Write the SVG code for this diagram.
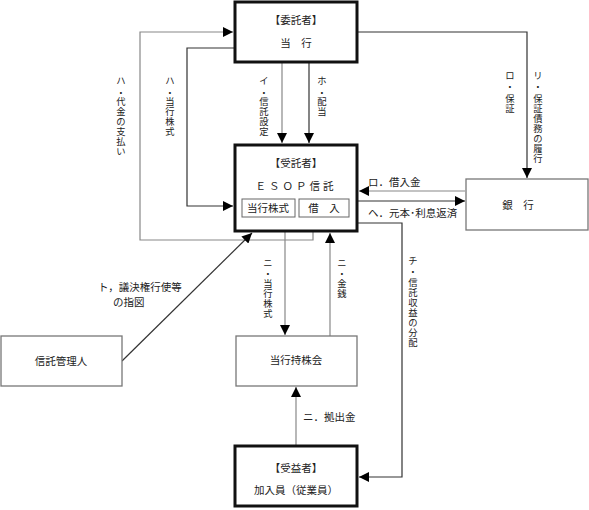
<svg xmlns="http://www.w3.org/2000/svg" width="589" height="510" viewBox="0 0 589 510">
<defs>
<marker id="ah" viewBox="0 0 10 10" refX="10" refY="5" markerWidth="10" markerHeight="10" markerUnits="userSpaceOnUse" orient="auto">
<path d="M0,0 L10,5 L0,10 z" fill="#000"/>
</marker>
</defs>
<style>
text{font-family:"Noto Sans CJK JP","Noto Sans CJK SC",sans-serif;font-size:10.5px;fill:#222}
.c{text-anchor:middle}
.v{text-anchor:middle;font-size:9.3px;font-family:"Liberation Sans","Noto Sans CJK JP",sans-serif}
.thick{fill:#fff;stroke:#111;stroke-width:3}
.thin{fill:#fff;stroke:#777;stroke-width:1.3}
.sub{fill:#fff;stroke:#666;stroke-width:1}
.cg{fill:none;stroke:#888;stroke-width:1.2}
.cd{fill:none;stroke:#333;stroke-width:1.2}
</style>
<rect width="589" height="510" fill="#fff"/>
<g id="connectors">
<path class="cg" d="M313,232 V240 H140 V32 H233" marker-end="url(#ah)"/>
<path class="cd" d="M234,48 H187 V206 H233" marker-end="url(#ah)"/>
<path class="cg" d="M282,62 V143" marker-end="url(#ah)"/>
<path class="cd" d="M309,62 V143" marker-end="url(#ah)"/>
<path class="cd" d="M358,32 H527 V178" marker-end="url(#ah)"/>
<path class="cg" d="M465,191 H359" marker-end="url(#ah)"/>
<path class="cd" d="M358,201 H465" marker-end="url(#ah)"/>
<path class="cd" d="M358,223 H402 V477 H359" marker-end="url(#ah)"/>
<path class="cg" d="M285,232 V335" marker-end="url(#ah)"/>
<path class="cg" d="M330,336 V233" marker-end="url(#ah)"/>
<path class="cd" d="M122,361 L252,233" marker-end="url(#ah)"/>
<path class="cg" d="M296,445 V387" marker-end="url(#ah)"/>
<text class="v"><tspan x="121" y="83.5">ハ</tspan><tspan x="121" y="95.5">・</tspan><tspan x="121" y="105">代</tspan><tspan x="121" y="115">金</tspan><tspan x="121" y="125">の</tspan><tspan x="121" y="135">支</tspan><tspan x="121" y="145">払</tspan><tspan x="121" y="155">い</tspan></text>
<text class="v"><tspan x="170" y="83.5">ハ</tspan><tspan x="170" y="95.5">・</tspan><tspan x="170" y="104.5">当</tspan><tspan x="170" y="114.5">行</tspan><tspan x="170" y="124.5">株</tspan><tspan x="170" y="134.5">式</tspan></text>
<text class="v"><tspan x="264" y="83.5">イ</tspan><tspan x="264" y="95.5">・</tspan><tspan x="264" y="104.5">信</tspan><tspan x="264" y="114.5">託</tspan><tspan x="264" y="124.5">設</tspan><tspan x="264" y="134.5">定</tspan></text>
<text class="v"><tspan x="322" y="83.5">ホ</tspan><tspan x="322" y="95.5">・</tspan><tspan x="322" y="104.5">配</tspan><tspan x="322" y="114.5">当</tspan></text>
<text class="v"><tspan x="510" y="78.5">ロ</tspan><tspan x="510" y="89.5">・</tspan><tspan x="510" y="101.5">保</tspan><tspan x="510" y="111.5">証</tspan></text>
<text class="v"><tspan x="538" y="78.5">リ</tspan><tspan x="538" y="89.5">・</tspan><tspan x="538" y="101.5">保</tspan><tspan x="538" y="111.5">証</tspan><tspan x="538" y="121.5">債</tspan><tspan x="538" y="131.5">務</tspan><tspan x="538" y="141.5">の</tspan><tspan x="538" y="151.5">履</tspan><tspan x="538" y="161.5">行</tspan></text>
<text class="v"><tspan x="413" y="263.5">チ</tspan><tspan x="413" y="274.5">・</tspan><tspan x="413" y="285.5">信</tspan><tspan x="413" y="295.5">託</tspan><tspan x="413" y="305.5">収</tspan><tspan x="413" y="315.5">益</tspan><tspan x="413" y="325.5">の</tspan><tspan x="413" y="335.5">分</tspan><tspan x="413" y="345.5">配</tspan></text>
<text class="v"><tspan x="268" y="265.5">ニ</tspan><tspan x="268" y="276.5">・</tspan><tspan x="268" y="286.5">当</tspan><tspan x="268" y="296.5">行</tspan><tspan x="268" y="306.5">株</tspan><tspan x="268" y="316.5">式</tspan></text>
<text class="v"><tspan x="342" y="265.5">ニ</tspan><tspan x="342" y="276.5">・</tspan><tspan x="342" y="286.5">金</tspan><tspan x="342" y="296.5">銭</tspan></text>
<text x="368" y="186">ロ．借入金</text>
<text x="368" y="217">ヘ．元本･利息返済</text>
<text x="98" y="291">ト，議決権行使等</text>
<text x="113" y="306">の指図</text>
<text x="303" y="421">ニ．拠出金</text>
</g>
<g id="itaku">
<rect class="thick" x="235" y="2" width="122" height="60"/>
<text class="c" x="296" y="24">【委託者】</text>
<text class="c" x="296" y="47">当　行</text>
</g>
<g id="jutaku">
<rect class="thick" x="235" y="145" width="122" height="86"/>
<text class="c" x="296" y="167">【受託者】</text>
<text class="c" x="296" y="190" letter-spacing="3">ＥＳＯＰ信託</text>
<rect class="sub" x="242" y="199" width="53" height="18"/>
<text class="c" x="268" y="212">当行株式</text>
<rect class="sub" x="299" y="199" width="50" height="18"/>
<text class="c" x="324" y="212">借　入</text>
</g>
<g id="ginko">
<rect class="thin" x="466" y="179" width="122" height="51"/>
<text class="c" x="518" y="209">銀　行</text>
</g>
<g id="kanrinin">
<rect class="thin" x="1" y="336" width="121" height="50"/>
<text class="c" x="61" y="365">信託管理人</text>
</g>
<g id="mochikabukai">
<rect class="thin" x="236" y="336" width="121" height="50"/>
<text class="c" x="296" y="364">当行持株会</text>
</g>
<g id="jueki">
<rect class="thick" x="235" y="446" width="122" height="60"/>
<text class="c" x="296" y="472">【受益者】</text>
<text class="c" x="296" y="494">加入員（従業員）</text>
</g>
</svg>
